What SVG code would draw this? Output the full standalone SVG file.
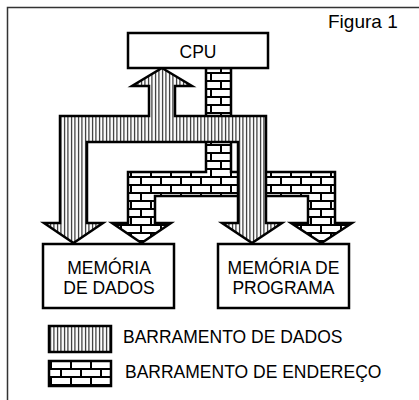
<svg xmlns="http://www.w3.org/2000/svg" width="419" height="400" viewBox="0 0 419 400">
<style>
.box{fill:#fff;stroke:#000;stroke-width:2.5}
.bus{stroke:#000;stroke-width:2.5;stroke-linejoin:miter}
.lbl{font-family:"Liberation Sans",Arial,sans-serif;font-size:17.5px;fill:#000}
.frame{fill:none;stroke:#333;stroke-width:1.5}
</style>
<defs>
<pattern id="stripe" width="3.5" height="10" patternUnits="userSpaceOnUse">
<rect width="3.5" height="10" fill="#fff"/>
<rect x="1" width="1" height="10" fill="#000"/>
</pattern>
<pattern id="brick" width="20" height="16" patternUnits="userSpaceOnUse">
<rect width="20" height="16" fill="#fff"/>
<path d="M0 1H20M0 9H20M1 1V9M11 9V17" stroke="#000" stroke-width="2" fill="none"/>
</pattern>
</defs>
<g id="frame">
<path class="frame" d="M7.5 400V7.5H419"/>
</g>
<g id="title">
<text class="lbl" x="328" y="28" style="font-size:19px">Figura 1</text>
</g>
<g id="connectors">
<polygon id="address-bus" class="bus" fill="url(#brick)" points="206,68 231,68 231,172 335,172 335,223 352,223 321.5,243 291,223 308,223 308,196 155,196 155,223 171,223 141.5,243 112,223 128,223 128,172 206,172"/>
<polygon id="data-bus" class="bus" fill="url(#stripe)" points="162,68 192,86 175,86 175,116 266,116 266,223 282,223 252,243 222,223 238,223 238,142 87,142 87,223 103,223 73.5,243 44,223 60,223 60,116 149,116 149,86 132,86"/>
</g>
<g id="cpu">
<rect class="box" x="128" y="33" width="140" height="35"/>
<text class="lbl" x="198" y="58" text-anchor="middle">CPU</text>
</g>
<g id="memoria-dados">
<rect class="box" x="43" y="244" width="131" height="64"/>
<text class="lbl" x="109" y="274" text-anchor="middle">MEMÓRIA</text>
<text class="lbl" x="109" y="294" text-anchor="middle">DE DADOS</text>
</g>
<g id="memoria-programa">
<rect class="box" x="218" y="244" width="131" height="64"/>
<text class="lbl" x="283.5" y="274" text-anchor="middle">MEMÓRIA DE</text>
<text class="lbl" x="283.5" y="294" text-anchor="middle">PROGRAMA</text>
</g>
<g id="legend">
<rect class="bus" fill="url(#stripe)" x="49" y="326" width="62" height="26"/>
<text class="lbl" x="123" y="343">BARRAMENTO DE DADOS</text>
<rect class="bus" fill="url(#brick)" x="49" y="361" width="62" height="25"/>
<text class="lbl" x="125" y="378">BARRAMENTO DE ENDEREÇO</text>
</g>
</svg>
